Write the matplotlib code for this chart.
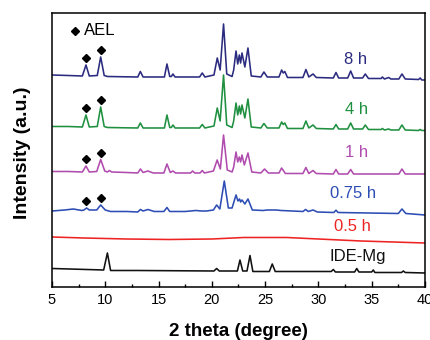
import numpy as np
import matplotlib
matplotlib.use("Agg")
import matplotlib.pyplot as plt

plt.rcParams['font.family'] = ['Liberation Sans', 'DejaVu Sans']

# XRD patterns, 2 theta (degree) and intensity (a.u., relative to each trace's own baseline)
x_8h = [5.0, 6.5, 7.85, 8.19, 8.5, 9.25, 9.57, 9.9, 10.2, 11.8, 13.05, 13.29, 13.55, 15.55, 15.79, 16.05,
        16.2, 16.35, 16.55, 18.85, 19.1, 19.35, 20.2, 20.51, 20.78, 21.1, 21.4, 21.9, 22.05, 22.27,
        22.43, 22.58, 22.7, 22.83, 23.1, 23.39, 23.7, 24.6, 24.89, 25.2, 26.3, 26.55, 26.7, 26.85,
        27.1, 28.55, 28.83, 29.1, 29.5, 29.8, 31.4, 31.65, 31.9, 32.75, 33.03, 33.3, 34.15, 34.4,
        34.7, 35.9, 36.0, 36.2, 36.6, 36.8, 37.55, 37.84, 38.15, 39.4, 39.55, 39.7, 40.0]
y_8h = [1, 0.5, 0, 11, 0, 0.5, 19, 0.5, -0.5, -0.8, -1, 4.5, -1, -1, 12, -0.5,
        -0.5, 2, -1, -1, 3, -1, 1, 18, 6, 52, 2, -0.5, 6, 25,
        12, 21, 13, 23, 9, 28, 0, -1, 4, -1, -1, 6, 3, 4.5,
        -1.5, -1.5, 6.5, -1, 2, -1.5, -2, 3.5, -2, -2, 5, -2, -2, 2,
        -2.5, -2.5, -1, -3, -1.5, -3, -3, 2, -3, -3.5, -2, -4, -4]

x_4h = [5.0, 6.5, 7.85, 8.19, 8.5, 9.25, 9.57, 9.9, 10.2, 11.8, 13.05, 13.29, 13.55, 15.55, 15.79, 16.05,
        16.2, 16.35, 16.55, 18.85, 19.1, 19.35, 20.2, 20.51, 20.78, 21.1, 21.4, 21.9, 22.05, 22.27,
        22.43, 22.58, 22.7, 22.83, 23.1, 23.39, 23.7, 24.6, 24.89, 25.2, 26.3, 26.55, 26.7, 26.85,
        27.1, 28.55, 28.83, 29.1, 29.5, 29.8, 31.4, 31.65, 31.9, 32.75, 33.03, 33.3, 34.15, 34.4,
        34.7, 35.9, 36.0, 36.2, 36.6, 36.8, 37.55, 37.84, 38.15, 39.4, 39.55, 39.7, 40.0]
y_4h = [0.5, 0.5, 0, 12, 0, 0.5, 20, 0.5, -0.5, -0.8, -1, 4, -1, -1, 12, -0.5,
        -0.5, 2, -1, -1, 2.5, -1, 1, 19, 6, 52, 2, -0.5, 6, 24,
        12, 21, 13, 22, 9, 28, 0, -1, 3.5, -1, -1, 5, 2.5, 4,
        -1.5, -1.5, 6, -1, 2, -1.5, -2, 2.5, -2, -2, 4, -2, -2, 2,
        -2.5, -2.5, -1.5, -3, -2, -3, -3, 2, -3, -3.5, -2.5, -3.5, -3.5]

x_1h = [5.0, 6.5, 7.85, 8.19, 8.5, 9.2, 9.57, 9.95, 10.2, 10.4, 10.6, 12.0, 13.05, 13.3, 13.55, 14.0,
        14.5, 15.5, 15.79, 16.1, 16.35, 16.6, 18.0, 18.2, 18.4, 18.9, 19.1, 19.3, 20.15, 20.5, 20.8,
        21.1, 21.45, 21.9, 22.05, 22.27, 22.43, 22.58, 22.7, 22.83, 23.05, 23.39, 23.75, 24.6, 24.95,
        25.3, 26.3, 26.55, 26.9, 28.55, 28.83, 29.1, 29.5, 29.8, 31.4, 31.65, 31.9, 32.75, 33.03, 33.3,
        37.55, 37.84, 38.15, 40.0]
y_1h = [0.5, 0.5, 0, 6, 0, 0.5, 12.5, 1, 0, 1.5, 0, -0.5, -1, 3, -0.5, 1,
        -1, -1, 8, -0.5, 1, -1, -1, 1, -1, -1, 1.5, -1, 1, 12, 3,
        37, 2, 0, 5, 20, 10, 15, 10, 17, 7, 19, 0, -1, 3,
        -1, -1, 4, -1.5, -1.5, 4.5, -1.5, 1.5, -1.5, -2, 2.5, -2, -2, 2.5, -2,
        -2, 3, -2, -2]

x_075h = [5.0, 6.2, 7.0, 7.8, 8.0, 8.25, 8.5, 9.2, 9.57, 10.0, 10.5, 12.0, 13.05, 13.3, 13.55, 14.0,
          14.6, 15.5, 15.79, 16.05, 17.5, 18.5, 19.0, 19.5, 20.15, 20.45, 20.75, 21.17, 21.55, 21.9,
          22.27, 22.45, 22.6, 22.7, 22.83, 23.1, 23.39, 23.8, 24.8, 25.2, 26.0, 26.5, 28.55, 28.8,
          29.05, 29.5, 29.9, 31.45, 31.65, 31.85, 37.5, 37.84, 38.2, 40.0]
y_075h = [0, 1, 2, 0.5, 1, 3, 1, 1, 6, 1, -0.5, -0.5, -1, 1.5, 0, 1.5,
          -0.5, -0.5, 3.5, -0.5, -0.5, 0.5, 0, 0, 1, 6, 2, 30, 3, 3,
          16, 10, 12, 9, 11, 7, 12, 1, 0.5, 1, 1, 0.5, -0.5, 1.5,
          -0.5, 1, -1, -1.5, 0.8, -1.5, -2.5, 2, -2.5, -4]

x_05h = [5, 8, 12, 16, 20, 23, 27, 30, 34, 37, 40]
y_05h = [1, 0, -1, -1.5, -1, 0.5, 0.5, -1, -3, -4, -5]

x_ide = [5.0, 9.85, 10.2, 10.5, 13.0, 20.2, 20.45, 20.7, 22.4, 22.64, 22.9, 23.3, 23.58, 23.85,
         25.4, 25.67, 25.95, 31.2, 31.4, 31.6, 33.4, 33.6, 33.8, 35.0, 35.15, 35.3, 37.8, 37.97,
         38.15, 40.0]
y_ide = [1.5, 0, 17, -0.5, -0.5, -1, 1.5, -1, -1, 10, -1, -1, 14.5, -1.5,
         -1.5, 6, -1.5, -1.5, 0.5, -2, -2, 1.5, -2, -2, 0, -2.5, -2.5, -1,
         -2.5, -3]

labels = ['8 h', '4 h', '1 h', '0.75 h', '0.5 h', 'IDE-Mg']
xs = [x_8h, x_4h, x_1h, x_075h, x_05h, x_ide]
ys = [y_8h, y_4h, y_1h, y_075h, y_05h, y_ide]
# AEL reflections marked on the crystalline samples
ael_peaks = [8.19, 9.57]

colors = ['#2b2b80', '#1f9040', '#b04cae', '#2d4db5', '#ee2424', '#111111']
offsets = [211, 160, 115, 76, 49, 17]
label_pos = [(33.45, 227), (33.6, 177), (33.6, 134), (33.25, 93), (33.15, 60), (33.7, 30)]

fig = plt.figure(figsize=(4.31, 3.40), dpi=100)
ax = fig.add_axes([0.1206, 0.1559, 0.8654, 0.8059])

for i in range(len(labels)):
    x = np.array(xs[i])
    y = np.array(ys[i]) + offsets[i]
    ax.plot(x, y, color=colors[i], lw=1.15, solid_joinstyle='round')
    ax.text(label_pos[i][0], label_pos[i][1], labels[i], color=colors[i],
            fontsize=12, ha='center', va='center')
    if i < 4:
        for p in ael_peaks:
            k = np.argmin(np.abs(x - p))
            ax.plot(p, y[k] + 6.5, marker='D', ms=3.8, color='black', ls='none')

ax.plot(7.13, 256.3, marker='D', ms=3.8, color='black', ls='none')
ax.text(7.97, 256.3, 'AEL', fontsize=12, ha='left', va='center')

ax.set_xlim(5, 40)
ax.set_ylim(0, 274)
ax.set_yticks([])
ax.set_xticks(np.arange(5, 41, 5))
ax.set_xticks(np.arange(7.5, 40, 5), minor=True)
ax.tick_params(axis='x', which='major', direction='in', length=4, width=1, labelsize=10.5, pad=4)
ax.tick_params(axis='x', which='minor', direction='in', length=2.5, width=1)
for s in ax.spines.values():
    s.set_linewidth(1.1)

ax.set_xlabel('2 theta (degree)', fontsize=13.5, fontweight='bold')
ax.set_ylabel('Intensity (a.u.)', fontsize=14, fontweight='bold')
ax.xaxis.set_label_coords(0.5, -0.162)
ax.xaxis.label.set_verticalalignment('center')
ax.yaxis.set_label_coords(-0.080, 0.49)
ax.yaxis.label.set_verticalalignment('center')

fig.savefig('out.png', dpi=100)
